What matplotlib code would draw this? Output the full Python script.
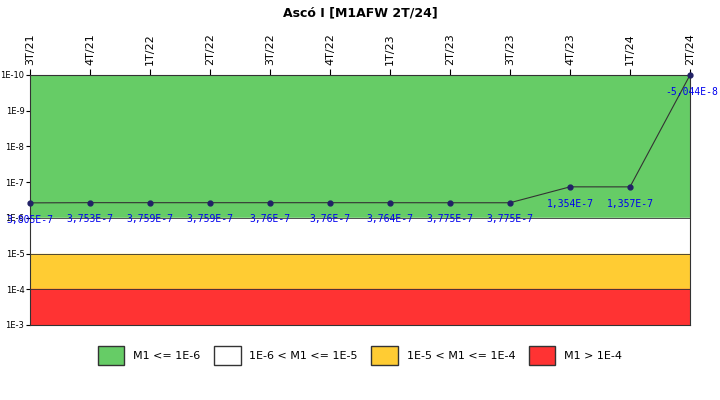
import matplotlib
matplotlib.use("Agg")
import matplotlib.pyplot as plt
from matplotlib.patches import Patch

quarters = ["3T/21", "4T/21", "1T/22", "2T/22", "3T/22", "4T/22",
            "1T/23", "2T/23", "3T/23", "4T/23", "1T/24", "2T/24"]
values = [3.805e-7, 3.753e-7, 3.759e-7, 3.759e-7, 3.76e-7, 3.76e-7,
          3.764e-7, 3.775e-7, 3.775e-7, 1.354e-7, 1.357e-7, -5.044e-8]
labels = ["3,805E-7", "3,753E-7", "3,759E-7", "3,759E-7", "3,76E-7", "3,76E-7",
          "3,764E-7", "3,775E-7", "3,775E-7", "1,354E-7", "1,357E-7", "-5,044E-8"]
band_edges = [1e-10, 1e-6, 1e-5, 1e-4, 1e-3]
band_colors = ["#66cc66", "#ffffff", "#ffcc33", "#ff3333"]
band_names = ["M1 <= 1E-6", "1E-6 < M1 <= 1E-5", "1E-5 < M1 <= 1E-4", "M1 > 1E-4"]
yticks = [1e-10, 1e-9, 1e-8, 1e-7, 1e-6, 1e-5, 1e-4, 1e-3]
ytick_labels = ["1E-10", "1E-9", "1E-8", "1E-7", "1E-6", "1E-5", "1E-4", "1E-3"]

fig = plt.figure(figsize=(7.2, 4.0), dpi=100)
ax = fig.add_axes([30/720, 75/400, 660/720, 250/400])
ax.set_yscale("log")
ax.set_ylim(1e-3, 1e-10)
ax.set_xlim(0, len(quarters) - 1)

for i in range(len(band_colors)):
    ax.axhspan(band_edges[i], band_edges[i+1], color=band_colors[i], zorder=0)
    ax.axhline(band_edges[i+1], color="#333333", lw=0.6, zorder=1)

x = list(range(len(quarters)))
plot_vals = [v if v > 0 else 1e-10 for v in values]
ax.plot(x, plot_vals, color="#333333", lw=0.8, marker="o", ms=3.5,
        mfc="#222266", mec="#222266", zorder=3, clip_on=False)
for xi, yv, lab in zip(x, plot_vals, labels):
    last = xi == len(x) - 1
    ax.annotate(lab, (xi, yv), xytext=(20 if last else 0, -12),
                textcoords="offset points", ha="right" if last else "center",
                va="center", color="#0000ee", fontsize=7,
                family="DejaVu Sans Mono", zorder=4)

ax.set_yticks(yticks)
ax.set_yticklabels(ytick_labels, fontsize=6)
ax.minorticks_off()
ax.set_xticks(x)
ax.set_xticklabels(quarters, rotation=90, fontsize=8)
ax.xaxis.tick_top()
ax.tick_params(axis="x", length=4)
ax.tick_params(axis="y", length=3, pad=1)
for s in ax.spines.values():
    s.set_color("#333333")

fig.suptitle("Ascó I [M1AFW 2T/24]", y=0.985, fontsize=9, fontweight="bold")

handles = [Patch(facecolor=c, edgecolor="#333333") for c in band_colors]
fig.legend(handles, band_names, loc="center", bbox_to_anchor=(0.5, 0.112),
           ncol=4, frameon=False, fontsize=8, handlelength=2.4, handleheight=2.2,
           columnspacing=1.2)

fig.savefig("out.png", dpi=100)
